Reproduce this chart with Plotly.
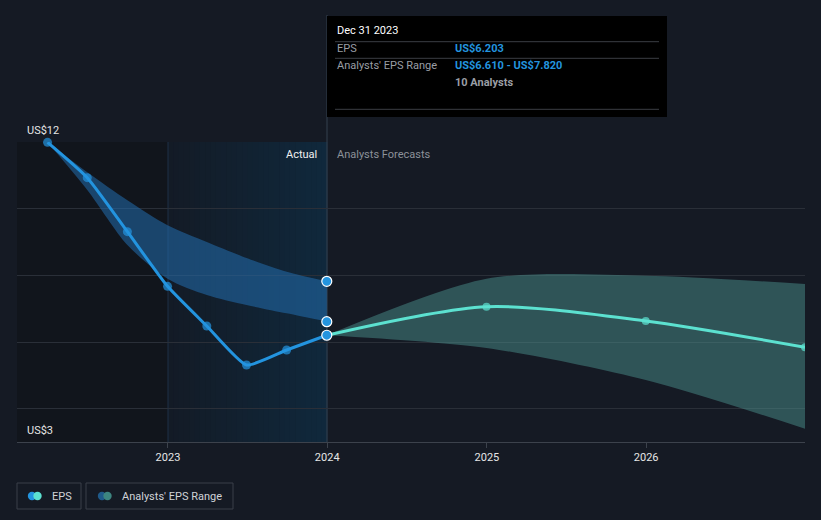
import plotly.graph_objects as go

# ---------------- data ----------------
past_dates = ['2022-03-31', '2022-06-30', '2022-09-30', '2022-12-31',
              '2023-03-31', '2023-06-30', '2023-09-30', '2023-12-31']
past_eps = [11.99, 10.93, 9.31, 7.67, 6.48, 5.31, 5.76, 6.203]
past_high = [11.99, 11.09, 10.25, 9.50, 9.00, 8.52, 8.11, 7.82]
past_low = [11.99, 10.56, 8.91, 7.90, 7.41, 7.11, 6.86, 6.61]

fut_dates = ['2023-12-31', '2024-12-31', '2025-12-31', '2026-12-31']
fut_eps = [6.203, 7.06, 6.63, 5.84]
fut_high = [6.203, 7.90, 7.99, 7.74]
fut_low = [6.203, 5.82, 4.86, 3.40]

tick_vals = ['2023-01-01', '2024-01-01', '2025-01-01', '2026-01-01']
tick_text = ['2023', '2024', '2025', '2026']
y_grid = [4, 6, 8, 10, 12]

# ---------------- layout helpers ----------------
W, H = 821, 520
L, R, T, B = 17, 16, 142, 78
PW, PH = W - L - R, H - T - B
def X(p): return (p - L) / PW
def Y(p): return (H - B - p) / PH

BG = '#151a24'
BLUE = '#2394df'
TEAL = '#5ce1d0'
FONT = 'Roboto'

fig = go.Figure()

# bands
fig.add_trace(go.Scatter(x=past_dates, y=past_high, mode='lines',
                         line=dict(width=0, shape='spline', smoothing=0.8),
                         hoverinfo='skip', showlegend=False))
fig.add_trace(go.Scatter(x=past_dates, y=past_low, mode='lines', fill='tonexty',
                         fillcolor='rgba(34,110,175,0.55)',
                         line=dict(width=0, shape='spline', smoothing=0.8),
                         hoverinfo='skip', showlegend=False))
fig.add_trace(go.Scatter(x=fut_dates, y=fut_high, mode='lines',
                         line=dict(width=0, shape='spline', smoothing=0.8),
                         hoverinfo='skip', showlegend=False))
fig.add_trace(go.Scatter(x=fut_dates, y=fut_low, mode='lines', fill='tonexty',
                         fillcolor='rgba(80,155,150,0.45)',
                         line=dict(width=0, shape='spline', smoothing=0.8),
                         hoverinfo='skip', showlegend=False))

# EPS lines
fig.add_trace(go.Scatter(x=past_dates, y=past_eps, mode='lines+markers',
                         line=dict(color=BLUE, width=3, shape='spline', smoothing=0.5),
                         marker=dict(size=[9] * 7 + [0], color=BLUE, line=dict(width=0)),
                         cliponaxis=False, showlegend=False))
fig.add_trace(go.Scatter(x=fut_dates, y=fut_eps, mode='lines+markers',
                         line=dict(color=TEAL, width=3, shape='spline', smoothing=0.8),
                         marker=dict(size=[0, 8, 8, 8], color=TEAL, line=dict(width=0)),
                         cliponaxis=True, showlegend=False))

# highlighted markers at Dec 31 2023
fig.add_trace(go.Scatter(x=[past_dates[-1]] * 3,
                         y=[past_high[-1], past_low[-1], past_eps[-1]],
                         mode='markers',
                         marker=dict(size=10, color=BLUE, line=dict(color='white', width=1.2)),
                         cliponaxis=False, showlegend=False))

shapes = []
# dark region before 2023
shapes.append(dict(type='rect', xref='paper', yref='paper', x0=X(17), x1=X(168),
                   y0=0, y1=1, fillcolor='#11151c', line_width=0, layer='below'))
# gradient region 2023 -> 2024 built from strips
n = 30
c0 = (19, 27, 38)
c1 = (16, 40, 60)
for i in range(n):
    f = i / (n - 1)
    col = 'rgb(%d,%d,%d)' % tuple(round(a + (b - a) * f) for a, b in zip(c0, c1))
    xa = 168 + (327 - 168) * i / n
    xb = 168 + (327 - 168) * (i + 1) / n + 0.5
    shapes.append(dict(type='rect', xref='paper', yref='paper', x0=X(xa), x1=X(xb),
                       y0=0, y1=1, fillcolor=col, line_width=0, layer='below'))
# vertical lines
shapes.append(dict(type='line', xref='paper', yref='paper', x0=X(168), x1=X(168),
                   y0=0, y1=1, line=dict(color='#1f3146', width=1), layer='below'))
shapes.append(dict(type='line', xref='paper', yref='paper', x0=X(327), x1=X(327),
                   y0=0, y1=Y(15), line=dict(color='#34404e', width=1), layer='below'))

# tooltip box
shapes.append(dict(type='rect', xref='paper', yref='paper', x0=X(327), x1=X(667),
                   y0=Y(117), y1=Y(16), fillcolor='#000000', line_width=0))
for yy in [41.7, 58.3, 109.3]:
    shapes.append(dict(type='line', xref='paper', yref='paper', x0=X(335), x1=X(659),
                       y0=Y(yy), y1=Y(yy), line=dict(color='#3b3e44', width=1)))

# legend boxes
shapes.append(dict(type='rect', xref='paper', yref='paper', x0=X(17), x1=X(81),
                   y0=Y(509), y1=Y(483), line=dict(color='#3a3f48', width=1),
                   fillcolor=BG))
shapes.append(dict(type='rect', xref='paper', yref='paper', x0=X(86), x1=X(233),
                   y0=Y(509), y1=Y(483), line=dict(color='#3a3f48', width=1),
                   fillcolor=BG))
def circ(cx, cy, r, col):
    return dict(type='circle', xref='paper', yref='paper', x0=X(cx - r), x1=X(cx + r),
                y0=Y(cy + r), y1=Y(cy - r), fillcolor=col, line_width=0)
shapes += [circ(32, 496, 4.2, BLUE), circ(37.5, 496, 4.2, TEAL),
           circ(102, 496, 4.2, '#1f5a8a'), circ(107.5, 496, 4.2, '#3d8580')]

def ann(text, px, py, color, size=11, anchor='left'):
    return dict(text=text, xref='paper', yref='paper', x=X(px), y=Y(py),
                xanchor=anchor, yanchor='middle', showarrow=False,
                font=dict(family=FONT, size=size, color=color))

annotations = [
    ann('US$12', 25, 130, '#e6e6e6'),
    ann('US$3', 25, 430, '#e6e6e6'),
    ann('Actual', 319, 154, '#f0f0f0', anchor='right'),
    ann('Analysts Forecasts', 335, 154, '#8c9199'),
    ann('Dec 31 2023', 335, 31, '#ffffff'),
    ann('EPS', 335, 49, '#9a9ea5'),
    ann('<b>US$6.203</b>', 453, 49, BLUE),
    ann("Analysts' EPS Range", 335, 66, '#9a9ea5'),
    ann('<b>US$6.610 - US$7.820</b>', 453, 66, BLUE),
    ann('<b>10 Analysts</b>', 453, 83, '#9a9ea5'),
    ann('EPS', 50, 496, '#d0d3d8'),
    ann("Analysts' EPS Range", 120, 496, '#d0d3d8'),
]

fig.update_layout(
    width=W, height=H,
    margin=dict(l=L, r=R, t=T, b=B),
    paper_bgcolor=BG, plot_bgcolor=BG,
    showlegend=False,
    shapes=shapes, annotations=annotations,
    font=dict(family=FONT, size=11, color='#e0e0e0'),
    xaxis=dict(type='date', range=['2022-01-20', '2026-12-31'],
               tickvals=tick_vals, ticktext=tick_text,
               showgrid=False, zeroline=False,
               showline=True, linecolor='#3c424c', linewidth=1,
               ticks='outside', ticklen=5, tickcolor='#3c424c',
               tickfont=dict(family=FONT, size=11, color='#e6e6e6'),
               fixedrange=True),
    yaxis=dict(range=[3, 12], tickvals=y_grid, showticklabels=False,
               showgrid=True, gridcolor='#2a2f38', gridwidth=1,
               zeroline=False, showline=False, fixedrange=True),
)

fig.write_html('out.html')
